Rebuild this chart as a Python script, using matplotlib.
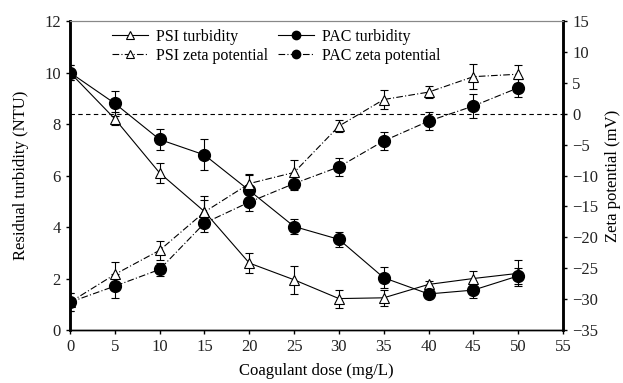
import matplotlib.pyplot as plt
from matplotlib.lines import Line2D
import numpy as np

## data ##
dose = [0, 5, 10, 15, 20, 25, 30, 35, 40, 45, 50]

psi_turb = [10.0, 8.2, 6.1, 4.6, 2.6, 1.95, 1.22, 1.25, 1.77, 2.0, 2.2]
psi_turb_err = [0.3, 0.25, 0.4, 0.6, 0.4, 0.55, 0.35, 0.3, 0.15, 0.3, 0.5]
pac_turb = [10.0, 8.8, 7.4, 6.8, 5.42, 4.02, 3.52, 2.03, 1.4, 1.55, 2.1]
pac_turb_err = [0.3, 0.5, 0.4, 0.6, 0.6, 0.3, 0.3, 0.4, 0.12, 0.3, 0.3]

psi_zeta = [-30.5, -26.0, -22.1, -15.9, -11.3, -9.5, -2.0, 2.3, 3.5, 6.0, 6.4]
psi_zeta_err = [1.5, 2.0, 1.5, 2.0, 1.5, 2.0, 1.0, 1.5, 1.0, 2.0, 1.5]
pac_zeta = [-30.5, -27.9, -25.2, -17.7, -14.3, -11.3, -8.6, -4.4, -1.2, 1.25, 4.2]
pac_zeta_err = [1.5, 2.0, 1.0, 1.5, 1.5, 1.0, 1.5, 1.5, 1.5, 2.0, 1.5]

labels = ['PSI turbidity', 'PSI zeta potential', 'PAC turbidity', 'PAC zeta potential']

## plotting ##
plt.rcParams['font.family'] = 'Liberation Serif'
fontsize = 12
dashdot = (0, (6, 2, 1, 2))

fig = plt.figure(figsize=(6.23, 3.83), dpi=100)
ax = fig.add_axes([0.1124, 0.1384, 0.7913, 0.8066])
ax2 = ax.twinx()

tri = dict(marker='^', markersize=7.5, markerfacecolor='white', markeredgecolor='black', markeredgewidth=0.8)
dot = dict(marker='o', markersize=8.5, markerfacecolor='black', markeredgecolor='black')
eb = dict(color='black', linewidth=0.8, elinewidth=0.8, capsize=3, capthick=0.8)

# zero line for zeta potential
ax2.axhline(0, color='black', linestyle=(0, (4, 3)), linewidth=0.8)

ax.errorbar(dose, psi_turb, yerr=psi_turb_err, linestyle='-', **tri, **eb)
ax.errorbar(dose, pac_turb, yerr=pac_turb_err, linestyle='-', **dot, **eb)
ax2.errorbar(dose, psi_zeta, yerr=psi_zeta_err, linestyle=dashdot, **tri, **eb)
ax2.errorbar(dose, pac_zeta, yerr=pac_zeta_err, linestyle=dashdot, **dot, **eb)

ax.set_xlim(0, 55)
ax.set_ylim(0, 12)
ax2.set_ylim(-35, 15)
ax.set_xticks(np.arange(0, 56, 5))
ax.set_yticks(np.arange(0, 13, 2))
ax2.set_yticks(np.arange(-35, 16, 5))

ax.set_xlabel('Coagulant dose (mg/L)', fontsize=fontsize, labelpad=6)
ax.set_ylabel('Residual turbidity (NTU)', fontsize=fontsize, labelpad=11)
ax2.set_ylabel('Zeta potential (mV)', fontsize=fontsize, labelpad=5)

for a in (ax, ax2):
    a.tick_params(labelsize=fontsize, direction='out', length=3, width=1, colors='black', labelcolor='#222222')
    a.spines['top'].set_color('#888888')
    a.spines['top'].set_linewidth(0.8)
    a.spines['left'].set_linewidth(1.8)
    a.spines['right'].set_linewidth(1.8)
    a.spines['bottom'].set_linewidth(1.0)

# legend handles without error bars
lw = 0.8
handles = [
    Line2D([], [], color='black', linewidth=lw, linestyle='-', marker='^', markersize=5.5, markerfacecolor='white', markeredgewidth=0.8),
    Line2D([], [], color='black', linewidth=lw, linestyle=dashdot, marker='^', markersize=5.5, markerfacecolor='white', markeredgewidth=0.8),
    Line2D([], [], color='black', linewidth=lw, linestyle='-', marker='o', markersize=6),
    Line2D([], [], color='black', linewidth=lw, linestyle=dashdot, marker='o', markersize=6),
]
ax.legend(handles, labels, ncol=2, frameon=False, fontsize=11.5, loc='upper left',
          bbox_to_anchor=(0.0846, 0.975), borderpad=0, borderaxespad=0,
          handlelength=2.3, handletextpad=0.5, columnspacing=0.56, labelspacing=0.2)

fig.savefig('out.png', dpi=100)
